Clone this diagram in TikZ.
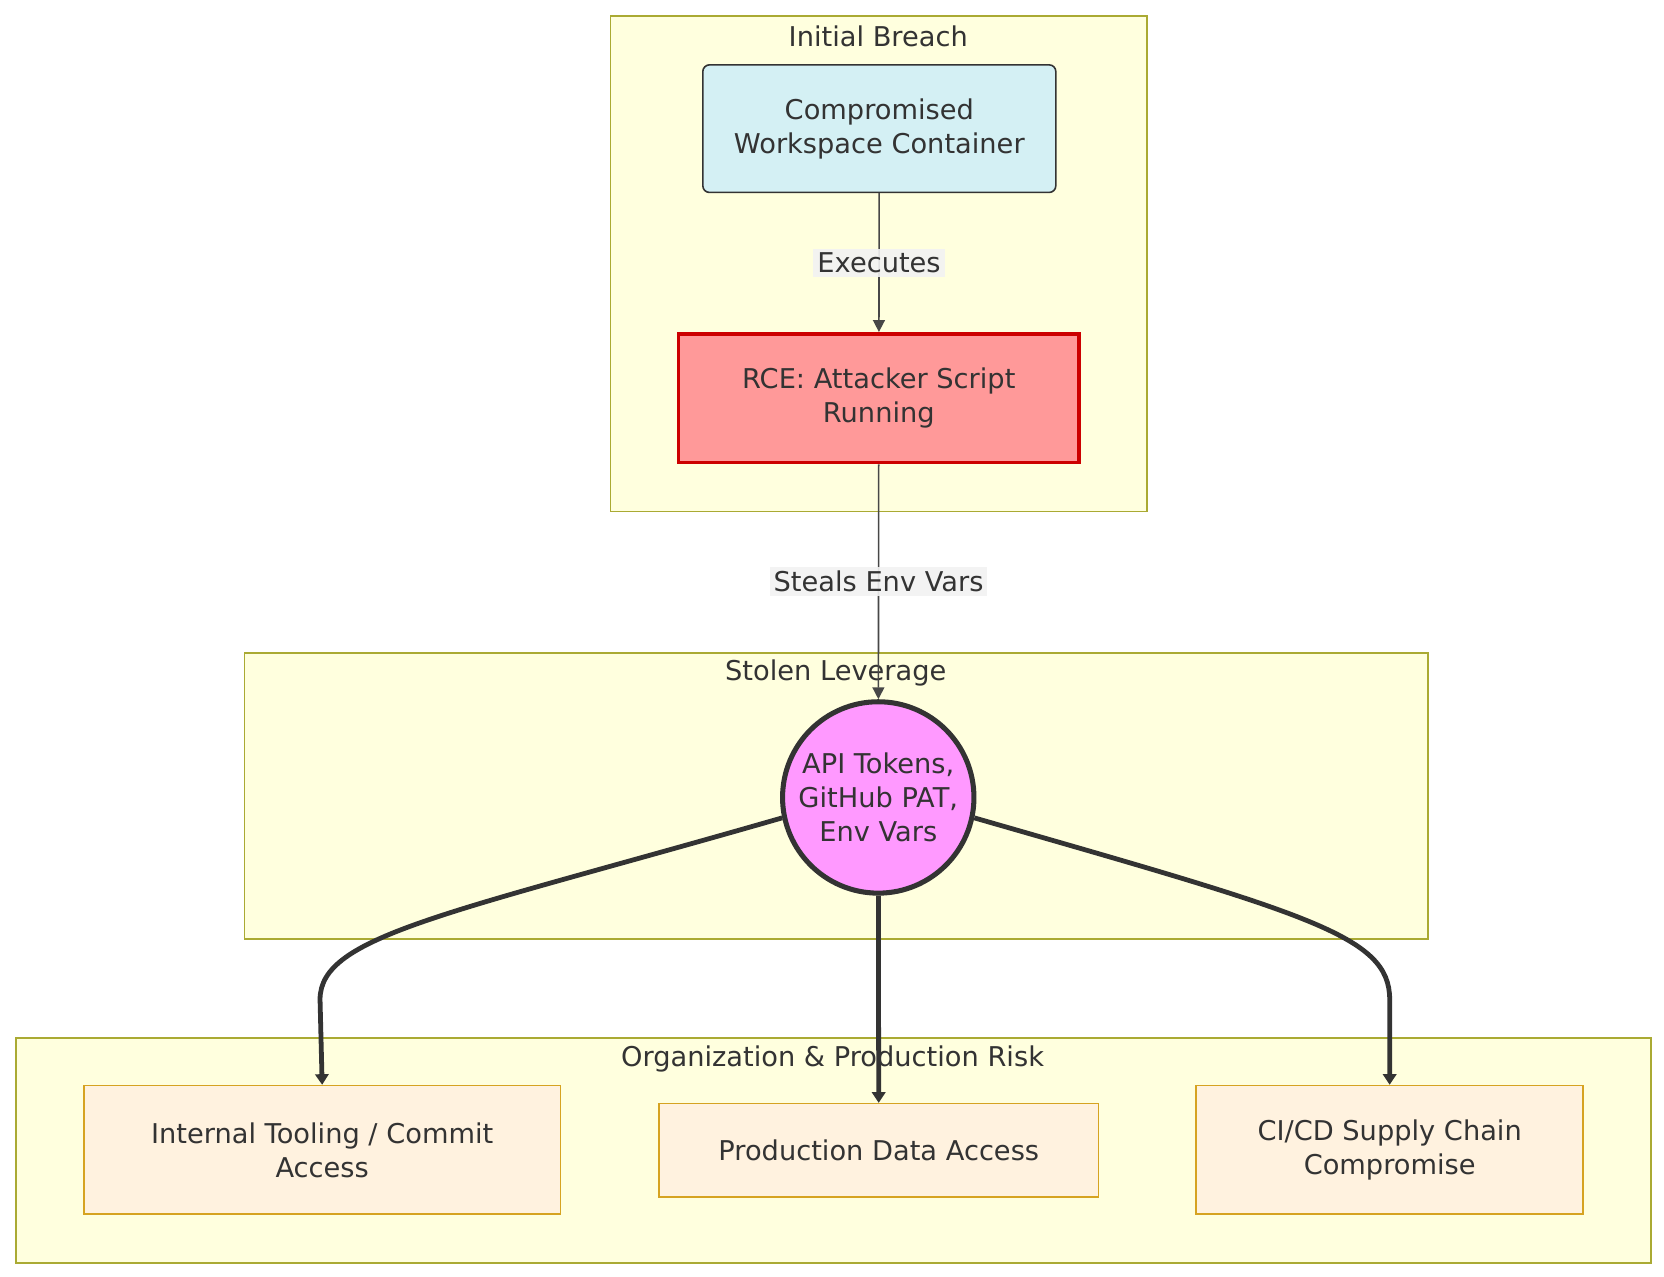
\documentclass[tikz,border=0pt]{standalone}
\usepackage{fontspec}
\setmainfont{DejaVu Sans}
\usetikzlibrary{arrows.meta}
\definecolor{cl}{HTML}{FFFFDE}\definecolor{cld}{HTML}{AAAA33}
\definecolor{txt}{HTML}{333333}
\definecolor{cyanf}{HTML}{D4F0F4}
\definecolor{redd}{HTML}{CC0000}\definecolor{redf}{HTML}{FF9999}
\definecolor{magf}{HTML}{FF99FF}
\definecolor{orgd}{HTML}{D6A321}\definecolor{orgf}{HTML}{FFF2DF}
\begin{document}
\begin{tikzpicture}[x=0.8pt,y=-0.8pt,font=\fontsize{20.5}{25.5}\selectfont,text=txt,
 clus/.style={draw=cld,fill=cl,line width=1.2pt},
 ttl/.style={font=\fontsize{20.5}{25.5}\selectfont},
 box/.style={draw=#1,line width=1.2pt,align=center,inner sep=0pt},
 thin/.style={draw=txt!90,line width=1.2pt,-{Triangle[length=9pt,width=9pt]}},
 thick/.style={draw=txt,line width=3.6pt,-{Triangle[length=8pt,width=10pt]}},
 lbl/.style={fill=black!5,fill opacity=0.9,text opacity=1,inner sep=3pt}]
\useasboundingbox (0,0) rectangle (1565,1201);
\fill[white] (0,0) rectangle (1565,1201);
\draw[clus] (574,15) rectangle (1079,481);
\node[ttl] (t1) at (826,34) {Initial Breach};
\draw[clus] (230,614) rectangle (1343,883);
\node[ttl] (t2) at (786,633) {Stolen Leverage};
\draw[clus] (15,976) rectangle (1553,1188);
\node[ttl] (t3) at (783,996) {Organization \& Production Risk};
\node[box=txt,fill=cyanf,rounded corners=5pt,minimum width=332*0.8pt,minimum height=120*0.8pt] (a) at (827,121) {Compromised\\Workspace Container};
\node[box=redd,line width=2.8pt,fill=redf,minimum width=377*0.8pt,minimum height=121*0.8pt] (b) at (826.5,374.5) {RCE: Attacker Script\\Running};
\node[circle,draw=txt,line width=3.8pt,fill=magf,minimum size=180*0.8pt,align=center,inner sep=0pt] (c) at (826,750) {API Tokens,\\GitHub PAT,\\Env Vars};
\tikzset{org/.style={box=orgd,fill=orgf}}
\node[org,minimum width=448*0.8pt,minimum height=121*0.8pt] (d) at (303,1081.5) {Internal Tooling / Commit\\Access};
\node[org,minimum width=413*0.8pt,minimum height=88*0.8pt] (e) at (826.5,1082) {Production Data Access};
\node[org,minimum width=364*0.8pt,minimum height=121*0.8pt] (f) at (1307,1081.5) {CI/CD Supply Chain\\Compromise};
\draw[thin] (a) -- (b) node[midway,lbl] {Executes};
\draw[thin] (b) -- (c) node[pos=0.5,lbl] {Steals Env Vars};
\draw[thick] (c.192) .. controls (420,860) and (301,880) .. (301,940) -- (d.north);
\draw[thick] (c) -- (e);
\draw[thick] (c.-12) .. controls (1232,860) and (1307,880) .. (1307,940) -- (f.north);
\end{tikzpicture}
\end{document}
